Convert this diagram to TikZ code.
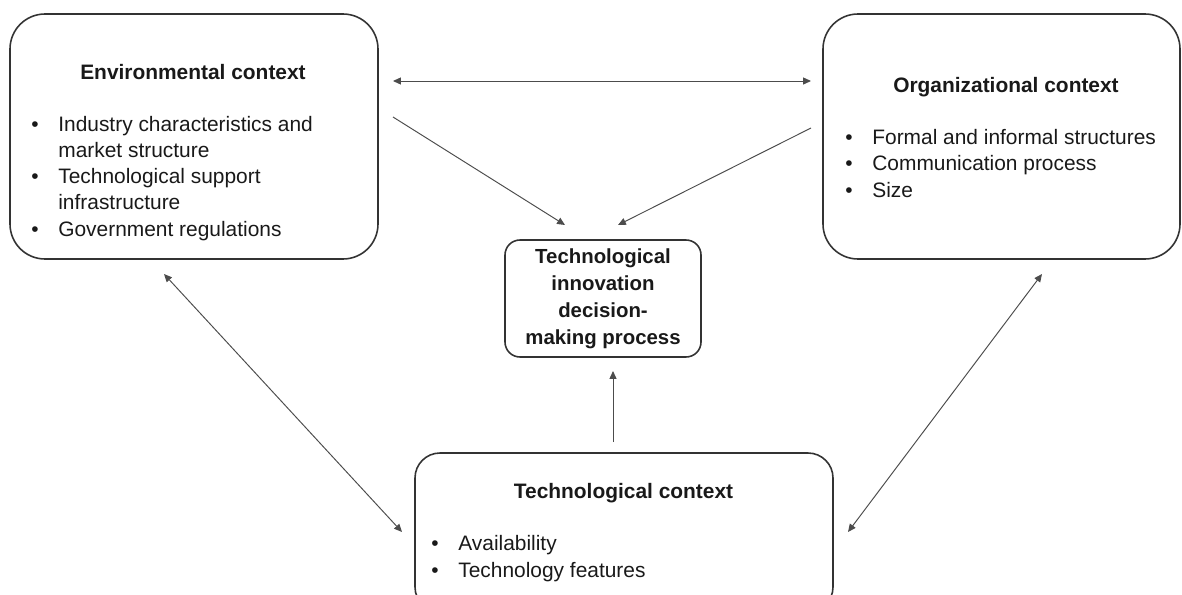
\documentclass[tikz,border=0pt]{standalone}
\usepackage{fontspec}
\setmainfont{Liberation Sans}
\usetikzlibrary{arrows.meta}
\newcommand{\itm}{\makebox[0.54cm][l]{\textbullet}}
\newcommand{\ind}{\hspace*{0.54cm}}
\begin{document}
\begin{tikzpicture}
  % Define styles for nodes
  \tikzstyle{context} = [draw=black!80, line width=0.9pt, rectangle,
  rounded corners=0.7cm]
  \tikzstyle{heading} = [anchor=base, inner sep=0, text=black!90,
  font=\fontsize{11.9}{14.8}\selectfont\bfseries]
  \tikzstyle{bullets} = [anchor=base west, inner sep=0, align=left,
  text=black!90, font=\fontsize{11.9}{14.8}\selectfont]
  \tikzstyle{decision} = [draw=black!80, line width=0.9pt, rectangle,
  rounded corners=0.3cm, minimum width=3.92cm, minimum height=2.34cm,
  align=center, inner sep=0, text=black!90,
  font=\fontsize{11.6}{15.3}\selectfont\bfseries]
  \tikzstyle{link} = [draw=black!70, line width=0.55pt,
  -{Triangle[length=4.5pt,width=4pt]}]
  \tikzstyle{twoway} = [link, {Triangle[length=4.5pt,width=4pt]}-{Triangle[length=4.5pt,width=4pt]}]

  \useasboundingbox (0,0) rectangle (23.64,11.88);

  % Context boxes
  \node[context, minimum width=7.36cm, minimum height=4.9cm] (env) at (3.88,9.15) {};
  \node[context, minimum width=7.14cm, minimum height=4.9cm] (org) at (20.03,9.15) {};
  \node[context, rounded corners=0.5cm, minimum width=8.36cm, minimum height=3.18cm] (tech) at (12.48,1.23) {};

  % Decision process in the middle
  \node[decision] (mid) at (12.06,5.91) {Technological\\innovation\\decision-\\making process};

  % Titles and bullets (lists sit on their last line)
  \node[heading] (envTitle) at (3.86,10.30) {Environmental context};
  \node[bullets] (envList) at (0.62,7.16) {\itm Industry characteristics and\\
    \ind market structure\\
    \itm Technological support\\
    \ind infrastructure\\
    \itm Government regulations};

  \node[heading] (orgTitle) at (20.12,10.04) {Organizational context};
  \node[bullets] (orgList) at (16.90,7.94) {\itm Formal and informal structures\\
    \itm Communication process\\
    \itm Size};

  \node[heading] (techTitle) at (12.47,1.92) {Technological context};
  \node[bullets] (techList) at (8.62,0.34) {\itm Availability\\
    \itm Technology features};

  % Arrow ends
  \coordinate (envTop) at (7.86,10.26);
  \coordinate (orgTop) at (16.22,10.26);
  \coordinate (envOut) at (7.86,9.54);
  \coordinate (orgOut) at (16.22,9.32);
  \coordinate (midLeft) at (11.30,7.38);
  \coordinate (midRight) at (12.36,7.38);
  \coordinate (techOut) at (12.26,3.04);
  \coordinate (midBottom) at (12.26,4.46);
  \coordinate (envLow) at (3.28,6.40);
  \coordinate (techLeft) at (8.04,1.24);
  \coordinate (orgLow) at (20.84,6.40);
  \coordinate (techRight) at (16.96,1.24);

  % Connections
  \draw[twoway] (envTop) -- (orgTop);
  \draw[link] (envOut) -- (midLeft);
  \draw[link] (orgOut) -- (midRight);
  \draw[link] (techOut) -- (midBottom);
  \draw[twoway] (envLow) -- (techLeft);
  \draw[twoway] (orgLow) -- (techRight);
\end{tikzpicture}
\end{document}
